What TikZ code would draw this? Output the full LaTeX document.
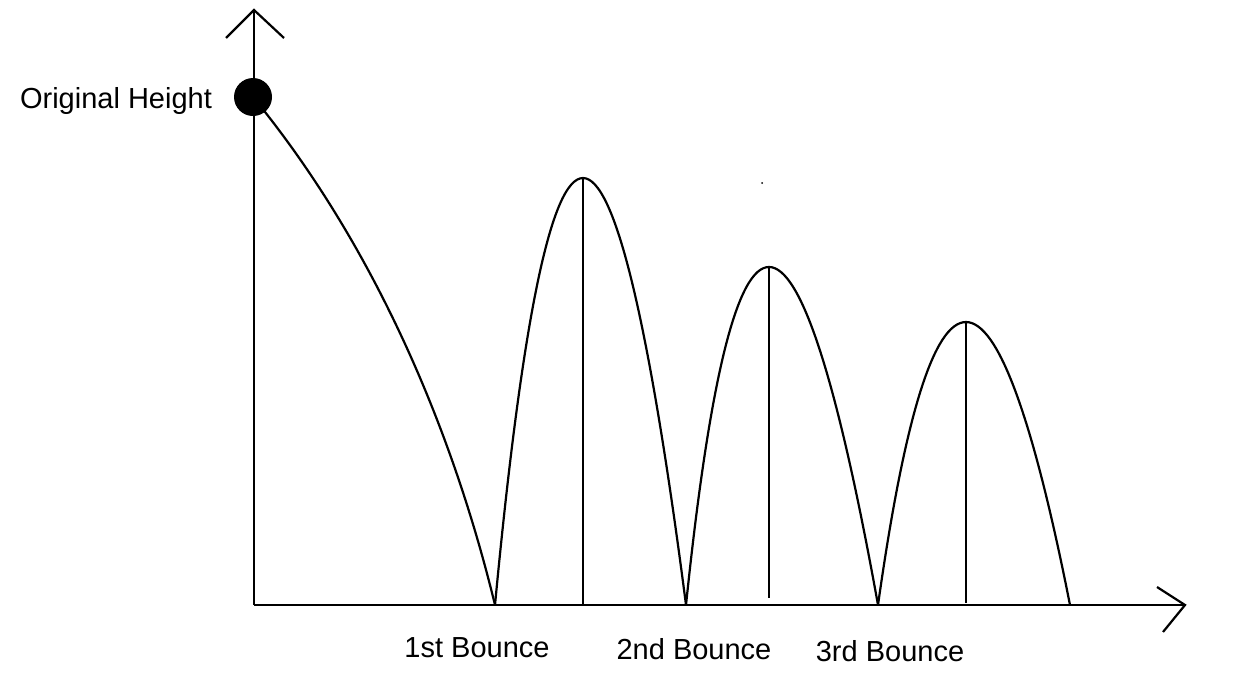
\documentclass[tikz,border=0pt]{standalone}
\usepackage{fontspec}
\setmainfont{Liberation Sans}

\tikzset{every picture/.style={line width=2.2pt}}
\tikzset{lbl/.style={inner sep=0pt,font=\fontsize{29}{34}\selectfont}}

\begin{document}
\begin{tikzpicture}[x=1pt,y=1pt,yscale=-1,xscale=1]
	\useasboundingbox (0,0) rectangle (1233,691);
	
	%Points
	\coordinate (O) at (254,605);
	\coordinate (ytop) at (254,10);
	\coordinate (xend) at (1185,605);
	\coordinate (ball) at (253,97);
	\coordinate (b1) at (495,605);
	\coordinate (b2) at (686,605);
	\coordinate (b3) at (878,605);
	\coordinate (b4) at (1070,605);
	\coordinate (p1) at (583,178);
	\coordinate (p2) at (769,267);
	\coordinate (p3) at (966,322);
	
	%Axes
	\draw (O) -- (ytop) ;
	\draw (O) -- (xend) ;
	\draw (226,38) -- (ytop) -- (284,38) ;
	\draw (1157,587) -- (xend) -- (1163,632) ;
	
	%Fall from the start
	\draw (ball) .. controls (370,240) and (450,420) .. (b1) ;
	%Arches
	\draw (b1) .. controls (548.7,35.7) and (612.3,35.7) .. (b2) ;
	\draw (b2) .. controls (732.7,154.3) and (796.7,154.3) .. (b3) ;
	\draw (b3) .. controls (931.3,227.7) and (995.3,227.7) .. (b4) ;
	
	%Peak lines
	\draw (p1) -- (583,605) ;
	\draw (p2) -- (769,598) ;
	\draw (p3) -- (966,603) ;
	
	%Ball
	\fill (ball) circle (19) ;
	\fill (762,183) circle (1) ;
	
	% Text Node
	\node [lbl, anchor=east] (orig) at (213,101) {Original Height};
	% Text Node
	\node [lbl] (first) at (477,648) {1st Bounce};
	% Text Node
	\node [lbl] (second) at (694,649) {2nd Bounce};
	% Text Node
	\node [lbl] (third) at (890,651) {3rd Bounce};
	
\end{tikzpicture}
\end{document}
